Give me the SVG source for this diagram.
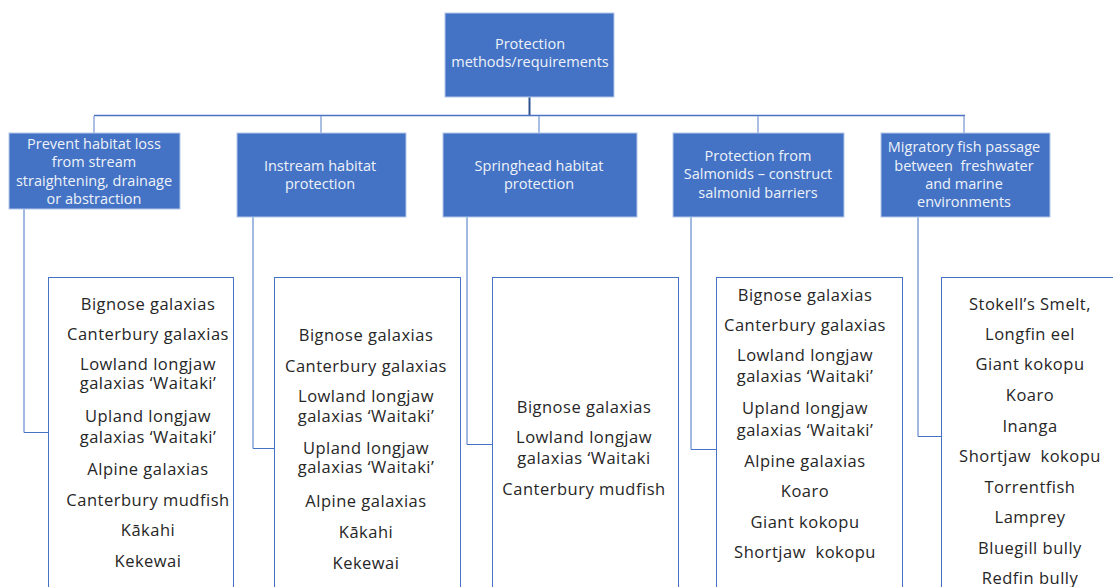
<svg xmlns="http://www.w3.org/2000/svg" width="1113" height="587" viewBox="0 0 1113 587">
<style>
.cat{fill:#4472C4;stroke:#B4C7E7;stroke-width:1}
.ct{font-family:"Open Sans","Liberation Sans",sans-serif;font-size:14.5px;fill:#EEF2FA;text-anchor:middle}
.lst{fill:#FFFFFF;stroke:#4472C4;stroke-width:1}
.lt{font-family:"Open Sans","Liberation Sans",sans-serif;font-size:16.5px;letter-spacing:0.5px;fill:#262626;text-anchor:middle}
.con{fill:none;stroke:#4472C4;stroke-width:1}
.tick{fill:none;stroke:#8FAADC;stroke-width:1.5}
</style>
<rect width="1113" height="587" fill="#FFFFFF"/>
<g id="connectors">
<line x1="529.5" y1="97" x2="529.5" y2="115" stroke="#2F528F" stroke-width="2"/>
<line x1="94" y1="115.5" x2="965" y2="115.5" stroke="#4A72C0" stroke-width="1.5"/>
<line class="tick" x1="94" y1="116" x2="94" y2="133"/>
<line class="tick" x1="321" y1="116" x2="321" y2="133"/>
<line class="tick" x1="539" y1="116" x2="539" y2="133"/>
<line class="tick" x1="758" y1="116" x2="758" y2="133"/>
<line class="tick" x1="964" y1="116" x2="964" y2="133"/>
<polyline class="con" points="24,209 24,432.5 48,432.5"/>
<polyline class="con" points="253,217 253,448.5 274,448.5"/>
<polyline class="con" points="467,217 467,444.5 492,444.5"/>
<polyline class="con" points="691,217 691,449.5 716,449.5"/>
<polyline class="con" points="918,217 918,436.5 941,436.5"/>
</g>
<g id="root">
<rect class="cat" x="445" y="13" width="169" height="84"/>
<text class="ct" x="530" y="49">Protection</text>
<text class="ct" x="530" y="67">methods/requirements</text>
</g>
<g id="cat1">
<rect class="cat" x="9" y="133" width="171" height="76"/>
<text class="ct" x="94" y="149">Prevent habitat loss</text>
<text class="ct" x="94" y="167">from stream</text>
<text class="ct" x="94" y="186">straightening, drainage</text>
<text class="ct" x="94" y="204">or abstraction</text>
</g>
<g id="cat2">
<rect class="cat" x="237" y="133" width="169" height="84"/>
<text class="ct" x="320" y="171">Instream habitat</text>
<text class="ct" x="320" y="189">protection</text>
</g>
<g id="cat3">
<rect class="cat" x="443" y="133" width="194" height="84"/>
<text class="ct" x="539" y="171">Springhead habitat</text>
<text class="ct" x="539" y="189">protection</text>
</g>
<g id="cat4">
<rect class="cat" x="673" y="133" width="171" height="84"/>
<text class="ct" x="758" y="161">Protection from</text>
<text class="ct" x="758" y="179">Salmonids – construct</text>
<text class="ct" x="758" y="198">salmonid barriers</text>
</g>
<g id="cat5">
<rect class="cat" x="881" y="133" width="169" height="84"/>
<text class="ct" x="964" y="152">Migratory fish passage</text>
<text class="ct" x="964" y="171" xml:space="preserve">between  freshwater</text>
<text class="ct" x="964" y="189">and marine</text>
<text class="ct" x="964" y="207">environments</text>
</g>
<g id="list1">
<rect class="lst" x="48.5" y="277.5" width="185" height="320"/>
<text class="lt" x="148" y="310">Bignose galaxias</text>
<text class="lt" x="148" y="340">Canterbury galaxias</text>
<text class="lt" x="148" y="370">Lowland longjaw</text>
<text class="lt" x="148" y="389">galaxias ‘Waitaki’</text>
<text class="lt" x="148" y="422">Upland longjaw</text>
<text class="lt" x="148" y="443">galaxias ‘Waitaki’</text>
<text class="lt" x="148" y="475">Alpine galaxias</text>
<text class="lt" x="148" y="506">Canterbury mudfish</text>
<text class="lt" x="148" y="536">Kākahi</text>
<text class="lt" x="148" y="567">Kekewai</text>
</g>
<g id="list2">
<rect class="lst" x="274.5" y="277.5" width="186" height="320"/>
<text class="lt" x="366" y="341">Bignose galaxias</text>
<text class="lt" x="366" y="372">Canterbury galaxias</text>
<text class="lt" x="366" y="402">Lowland longjaw</text>
<text class="lt" x="366" y="422">galaxias ‘Waitaki’</text>
<text class="lt" x="366" y="454">Upland longjaw</text>
<text class="lt" x="366" y="473">galaxias ‘Waitaki’</text>
<text class="lt" x="366" y="507">Alpine galaxias</text>
<text class="lt" x="366" y="538">Kākahi</text>
<text class="lt" x="366" y="569">Kekewai</text>
</g>
<g id="list3">
<rect class="lst" x="492.5" y="277.5" width="186" height="320"/>
<text class="lt" x="584" y="413">Bignose galaxias</text>
<text class="lt" x="584" y="443">Lowland longjaw</text>
<text class="lt" x="584" y="464">galaxias ‘Waitaki</text>
<text class="lt" x="584" y="495">Canterbury mudfish</text>
</g>
<g id="list4">
<rect class="lst" x="716.5" y="277.5" width="186" height="320"/>
<text class="lt" x="805" y="301">Bignose galaxias</text>
<text class="lt" x="805" y="331">Canterbury galaxias</text>
<text class="lt" x="805" y="361">Lowland longjaw</text>
<text class="lt" x="805" y="382">galaxias ‘Waitaki’</text>
<text class="lt" x="805" y="414">Upland longjaw</text>
<text class="lt" x="805" y="436">galaxias ‘Waitaki’</text>
<text class="lt" x="805" y="467">Alpine galaxias</text>
<text class="lt" x="805" y="497">Koaro</text>
<text class="lt" x="805" y="528">Giant kokopu</text>
<text class="lt" x="805" y="558" xml:space="preserve">Shortjaw  kokopu</text>
</g>
<g id="list5">
<rect class="lst" x="941.5" y="277.5" width="186" height="320"/>
<text class="lt" x="1030" y="310">Stokell’s Smelt,</text>
<text class="lt" x="1030" y="340">Longfin eel</text>
<text class="lt" x="1030" y="370">Giant kokopu</text>
<text class="lt" x="1030" y="401">Koaro</text>
<text class="lt" x="1030" y="432">Inanga</text>
<text class="lt" x="1030" y="462" xml:space="preserve">Shortjaw  kokopu</text>
<text class="lt" x="1030" y="493">Torrentfish</text>
<text class="lt" x="1030" y="523">Lamprey</text>
<text class="lt" x="1030" y="554">Bluegill bully</text>
<text class="lt" x="1030" y="584">Redfin bully</text>
</g>
</svg>
